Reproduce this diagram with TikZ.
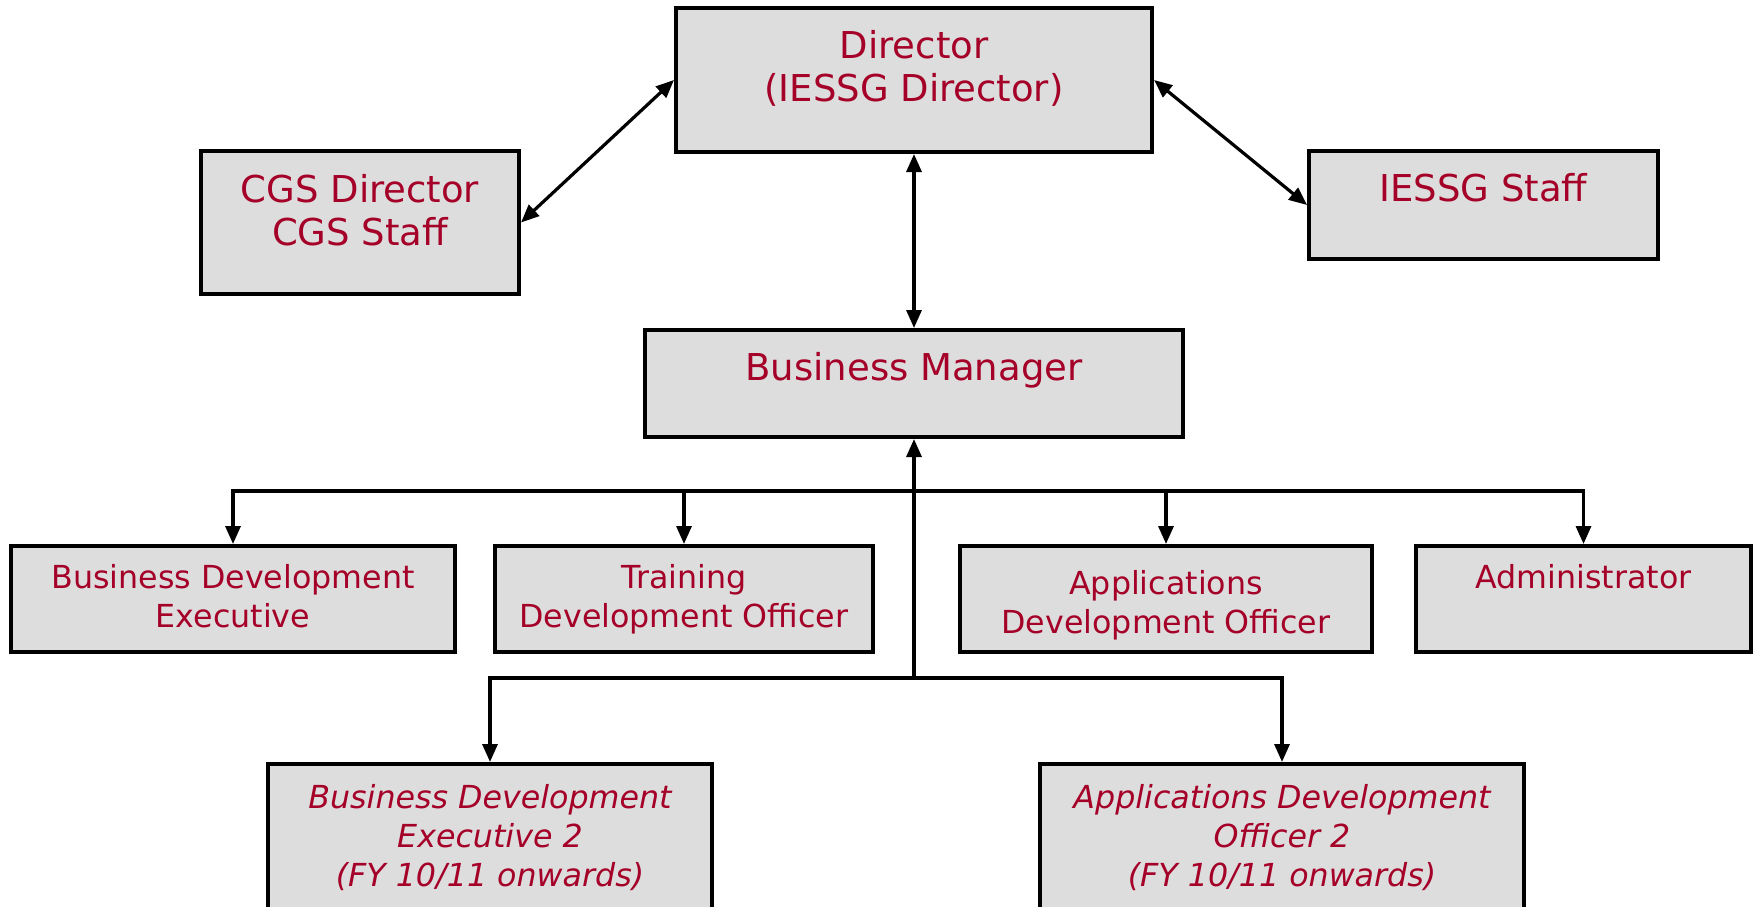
\documentclass[tikz,border=0pt]{standalone}
\usepackage{fontspec}
\setmainfont{DejaVu Sans}
\usetikzlibrary{arrows.meta}
\definecolor{txtred}{RGB}{165,0,40}
\definecolor{boxgray}{RGB}{221,221,221}
\begin{document}
\begin{tikzpicture}[x=0.5pt,y=-0.5pt,
  box/.style={draw=black, line width=2pt, fill=boxgray, inner sep=0pt},
  big/.style={font=\fontsize{18.5}{21.75}\selectfont, text=txtred, inner sep=0pt, anchor=base},
  small/.style={font=\fontsize{15.85}{19.5}\selectfont, text=txtred, inner sep=0pt, anchor=base},
  link/.style={line width=1.6pt, draw=black},
  tip/.style={-{Triangle[length=9pt,width=7.5pt]}},
  dtip/.style={{Triangle[length=9pt,width=7.5pt]}-{Triangle[length=9pt,width=7.5pt]}}]
\useasboundingbox (0,0) rectangle (1756,906);
\clip (0,0) rectangle (1756,906);
% boxes
\node[box, minimum width=238pt, minimum height=72pt] (dir) at (914,80) {};
\node[box, minimum width=159pt, minimum height=71.5pt] (cgs) at (360,222.5) {};
\node[box, minimum width=174.5pt, minimum height=54pt] (iessg) at (1483.5,205) {};
\node[box, minimum width=269pt, minimum height=53.5pt] (bm) at (914,383.5) {};
\node[box, minimum width=222pt, minimum height=53pt] (bde) at (233,599) {};
\node[box, minimum width=189pt, minimum height=53pt] (tdo) at (684,599) {};
\node[box, minimum width=206pt, minimum height=53pt] (ado) at (1166,599) {};
\node[box, minimum width=167.5pt, minimum height=53pt] (adm) at (1583.5,599) {};
\node[box, minimum width=222pt, minimum height=90pt] (bdetwo) at (490,854) {};
\node[box, minimum width=242pt, minimum height=90pt] (adotwo) at (1282,854) {};
% texts
\node[big] (tdir) at (914,58) {\parbox[t]{236pt}{\centering Director\\(IESSG Director)}};
\node[big] (tcgs) at (360,202) {\parbox[t]{157pt}{\centering CGS Director\\CGS Staff}};
\node[big] (tiessg) at (1483.5,201) {\parbox[t]{172pt}{\centering IESSG Staff}};
\node[big] (tbm) at (914,380) {\parbox[t]{266pt}{\centering Business Manager}};
\node[small] (tbde) at (233,588) {\parbox[t]{220pt}{\centering Business Development\\Executive}};
\node[small] (ttdo) at (684,588) {\parbox[t]{187pt}{\centering Training\\Development Officer}};
\node[small] (tado) at (1166,594) {\parbox[t]{204pt}{\centering Applications\\Development Officer}};
\node[small] (tadm) at (1583.5,588) {\parbox[t]{165pt}{\centering Administrator}};
\node[small] (tbdetwo) at (490,808) {\parbox[t]{220pt}{\centering\itshape Business Development\\Executive 2\\(FY 10/11 onwards)}};
\node[small] (tadotwo) at (1282,808) {\parbox[t]{240pt}{\centering\itshape Applications Development\\Officer 2\\(FY 10/11 onwards)}};
% connectors
\coordinate (j1) at (914,491);
\coordinate (j2) at (914,678);
\draw[link,dtip] (cgs.east) -- (dir.west);
\draw[link,dtip] (dir.east) -- (iessg.west);
\draw[link,dtip] (dir.south) -- (bm.north);
\draw[link,tip] (j2) -- (bm.south);
\draw[link,tip] (j1) -| (bde.north);
\draw[link,tip] (j1) -| (tdo.north);
\draw[link,tip] (j1) -| (ado.north);
\draw[link,tip] (j1) -| (adm.north);
\draw[link,tip] (j2) -| (bdetwo.north);
\draw[link,tip] (j2) -| (adotwo.north);
\end{tikzpicture}
\end{document}
